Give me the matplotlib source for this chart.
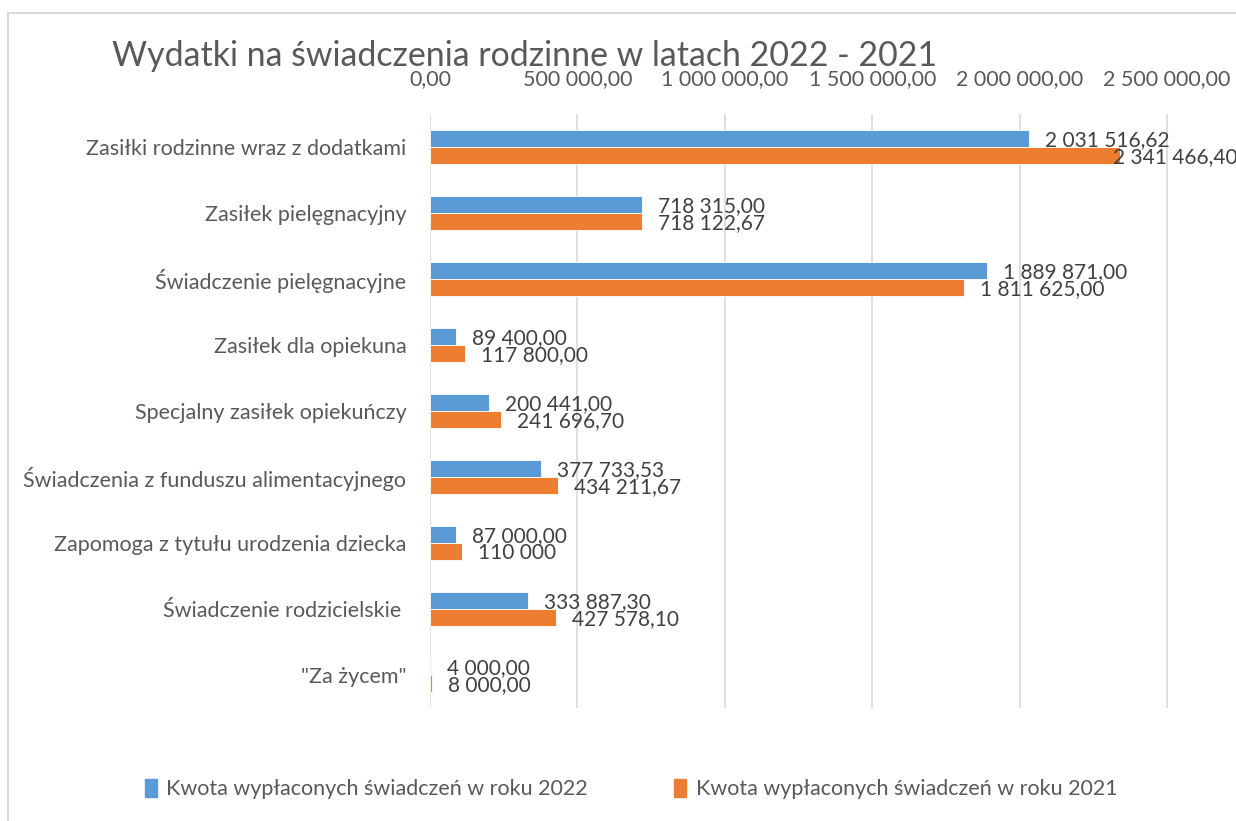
"""
Wydatki na świadczenia rodzinne 2022 vs 2021 - poziomy wykres słupkowy.
"""

import matplotlib.pyplot as plt
import matplotlib.ticker as mticker
from matplotlib.patches import Rectangle
import numpy as np

# ── Data ─────────────────────────────────────────────────────────────────────

categories = [
    "Zasiłki rodzinne wraz z dodatkami",
    "Zasiłek pielęgnacyjny",
    "Świadczenie pielęgnacyjne",
    "Zasiłek dla opiekuna",
    "Specjalny zasiłek opiekuńczy",
    "Świadczenia z funduszu alimentacyjnego",
    "Zapomoga z tytułu urodzenia dziecka",
    "Świadczenie rodzicielskie ",
    '"Za życem"',
]

values_2022 = [2031516.62, 718315.00, 1889871.00, 89400.00, 200441.00,
               377733.53, 87000.00, 333887.30, 4000.00]
values_2021 = [2341466.40, 718122.67, 1811625.00, 117800.00, 241696.70,
               434211.67, 110000.00, 427578.10, 8000.00]

labels_2022 = ["2 031 516,62", "718 315,00", "1 889 871,00", "89 400,00",
               "200 441,00", "377 733,53", "87 000,00", "333 887,30", "4 000,00"]
labels_2021 = ["2 341 466,40", "718 122,67", "1 811 625,00", "117 800,00",
               "241 696,70", "434 211,67", "110 000", "427 578,10", "8 000,00"]

series_names = [
    "Kwota wypłaconych świadczeń w roku 2022",
    "Kwota wypłaconych świadczeń w roku 2021",
]

x_ticks = [0, 500000, 1000000, 1500000, 2000000, 2500000]

# ── Style ────────────────────────────────────────────────────────────────────

BLUE = "#5B9BD5"
ORANGE = "#ED7D31"
GRID = "#D9D9D9"
TEXT = "#595959"
LABEL = "#404040"
FS = 15.5

plt.rcParams.update({"font.family": ["Lato", "DejaVu Sans"], "font.size": FS})


def pl_number(v, pos=None):
    s = f"{v:,.2f}"
    return s.replace(",", " ").replace(".", ",")


fig = plt.figure(figsize=(12.36, 8.21), dpi=100)
ax = fig.add_axes([430 / 1236, 1 - 708 / 821, 1 - 430 / 1236, (708 - 114) / 821])

y = np.arange(len(categories))
h = 0.26
ax.barh(y - h / 2, values_2022, height=h, color=BLUE, edgecolor="white",
        linewidth=0.6, label=series_names[0], zorder=2)
ax.barh(y + h / 2, values_2021, height=h, color=ORANGE, edgecolor="white",
        linewidth=0.6, label=series_names[1], zorder=2)

px = 2500000 / (1167 - 430)  # data units per pixel
xmax = (1236 - 430) * px
ax.set_xlim(0, xmax)
ax.set_ylim(len(categories) - 0.5, -0.5)

label_cap = (1113 - 430) * px
for yi, v, t in zip(y, values_2022, labels_2022):
    ax.text(min(v + 16 * px, label_cap), yi - h / 2 + 0.03, t, va="center",
            ha="left", color=LABEL, fontsize=15, clip_on=False)
for yi, v, t in zip(y, values_2021, labels_2021):
    ax.text(min(v + 16 * px, label_cap), yi + h / 2 + 0.02, t, va="center",
            ha="left", color=LABEL, fontsize=15, clip_on=False)

ax.set_yticks(y)
ax.set_yticklabels(categories, color=TEXT, fontsize=FS)
ax.xaxis.tick_top()
ax.set_xticks(x_ticks)
ax.xaxis.set_major_formatter(mticker.FuncFormatter(pl_number))
ax.tick_params(axis="x", length=0, pad=18, labelcolor=TEXT, labelsize=FS)
ax.tick_params(axis="y", length=0, pad=17)
ax.grid(axis="x", color=GRID, linewidth=1.2, zorder=0)
ax.set_axisbelow(True)
for s in ax.spines.values():
    s.set_visible(False)

fig.text(112 / 1236, 1 - 66 / 821, "Wydatki na świadczenia rodzinne w latach 2022 - 2021",
         fontsize=24.4, color=TEXT, ha="left", va="baseline")

# chart border
fig.patches.append(Rectangle((8 / 1236, -0.05), 1.1, 0.05 + 1 - 13 / 821,
                             transform=fig.transFigure, fill=False,
                             edgecolor=GRID, linewidth=1.5))

handles = [Rectangle((0, 0), 1, 1, color=BLUE), Rectangle((0, 0), 1, 1, color=ORANGE)]
fig.legend(handles, series_names, loc="center", bbox_to_anchor=(631 / 1236, 1 - 789 / 821),
           ncol=2, frameon=False, fontsize=FS, labelcolor=TEXT,
           handlelength=0.55, handleheight=0.9, handletextpad=0.45, columnspacing=4.0)

fig.savefig("out.png", dpi=100)
